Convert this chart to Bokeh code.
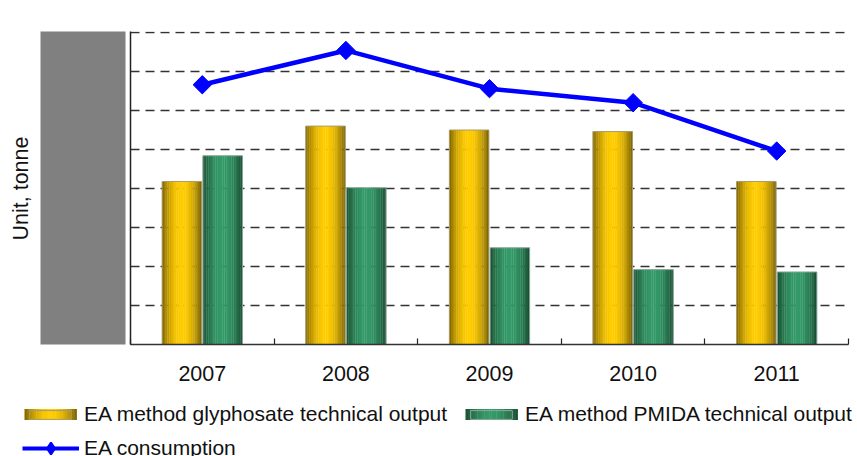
import numpy as np
from bokeh.plotting import figure
from bokeh.layouts import row, column
from bokeh.models import (ColumnDataSource, Range1d, FixedTicker, Legend, LegendItem, Title)
from bokeh.embed import file_html
from bokeh.resources import INLINE

# ---- data (tonnes) ----
years = ["2007", "2008", "2009", "2010", "2011"]
glyphosate_output = [20900, 28000, 27500, 27300, 20900]
pmida_output = [24200, 20100, 12400, 9600, 9300]
ea_consumption = [33300, 37700, 32800, 31000, 24800]
y_ticks = [0, 5000, 10000, 15000, 20000, 25000, 30000, 35000, 40000]
series_names = ["EA method glyphosate technical output",
                "EA method PMIDA technical output",
                "EA consumption"]

FONT = "Liberation Sans"
FS = "21px"
TXT = "#111111"
TOP_H = 392


def blank(fig):
    fig.xaxis.visible = False
    fig.yaxis.visible = False
    fig.grid.visible = False
    fig.outline_line_color = None
    fig.border_fill_color = "white"


# ---------------- axis title strip ----------------
lab = figure(width=40, height=TOP_H, output_backend="svg", toolbar_location=None,
             x_range=Range1d(0, 1), y_range=Range1d(0, 1),
             min_border_left=32, min_border_right=0, min_border_top=14,
             min_border_bottom=3)
blank(lab)
lab.background_fill_color = "white"
lab.add_layout(Title(text="Unit, tonne", align="left", offset=104,
                     text_font=FONT, text_font_size="21.5px", text_font_style="normal",
                     text_color=TXT, standoff=0), "left")

# ---------------- grey block (covers the value labels) ----------------
grey = figure(width=86, height=TOP_H, output_backend="svg", toolbar_location=None,
              x_range=Range1d(0, 1), y_range=Range1d(0, 1),
              min_border_left=0, min_border_right=1, min_border_top=14,
              min_border_bottom=3)
blank(grey)
grey.background_fill_color = "#808080"

# ---------------- main chart ----------------
frame_h = 313
y_end = y_ticks[-1] * frame_h / (frame_h - 1)
p = figure(width=731, height=TOP_H, output_backend="svg", toolbar_location=None,
           x_range=Range1d(0, len(years)), y_range=Range1d(0, y_end),
           min_border_left=4, min_border_right=9, min_border_top=31,
           min_border_bottom=TOP_H - 344)
p.outline_line_color = None
p.background_fill_color = "white"
p.border_fill_color = "white"


def hexc(c):
    return "#%02x%02x%02x" % tuple(int(round(v)) for v in c)


def gradient(dark_l, light, dark_r, n):
    cols = []
    for k in range(n):
        t = (k + 0.5) / n
        f = np.sin(np.pi * t) ** 0.8
        dark = np.array(dark_l) if t < 0.5 else np.array(dark_r)
        cols.append(hexc(dark + (np.array(light) - dark) * f))
    return cols


NS = 22
BW = 0.275
OFF = 0.142
gold_cols = gradient((120, 94, 0), (255, 204, 0), (112, 90, 8), NS)
green_cols = gradient((24, 74, 48), (52, 154, 104), (22, 70, 46), NS)


def strip_source(values, offset, colors):
    xs, tops, cs = [], [], []
    for i, v in enumerate(values):
        c = i + 0.5 + offset
        for k in range(NS):
            xs.append(c - BW / 2 + (k + 0.5) * BW / NS)
            tops.append(v)
            cs.append(colors[k])
    return ColumnDataSource(dict(x=xs, top=tops, color=cs))


p.vbar(x="x", top="top", width=BW / NS * 1.15, bottom=0,
       source=strip_source(glyphosate_output, -OFF, gold_cols),
       fill_color="color", line_color=None)
p.vbar(x="x", top="top", width=BW / NS * 1.15, bottom=0,
       source=strip_source(pmida_output, OFF, green_cols),
       fill_color="color", line_color=None)

xc = np.arange(len(years)) + 0.5
p.vbar(x=xc - OFF, top=glyphosate_output, width=BW, fill_color=None,
       line_color="#a89c6a", line_width=1)
p.vbar(x=xc + OFF, top=pmida_output, width=BW, fill_color=None,
       line_color="#8aa898", line_width=1)

p.line(xc, ea_consumption, line_color="#0000ff", line_width=4.5)
p.scatter(xc, ea_consumption, marker="square", angle=np.pi / 4, size=13,
          fill_color="#0000ff", line_color="#0000ff")

p.xaxis.ticker = FixedTicker(ticks=list(xc), minor_ticks=list(range(len(years) + 1)))
p.xaxis.major_label_overrides = {float(x): y for x, y in zip(xc, years)}
p.xaxis.major_tick_in = 0
p.xaxis.major_tick_out = 0
p.xaxis.minor_tick_in = 6
p.xaxis.minor_tick_out = 0
p.xaxis.minor_tick_line_color = "#222222"
p.xaxis.minor_tick_line_width = 1.2
p.xaxis.axis_line_color = "#333333"
p.xaxis.axis_line_width = 1.5
p.xaxis.major_label_text_font = FONT
p.xaxis.major_label_text_font_size = "21.5px"
p.xaxis.major_label_text_color = TXT
p.xaxis.major_label_standoff = 21

p.yaxis.ticker = FixedTicker(ticks=y_ticks)
p.yaxis.major_tick_in = 0
p.yaxis.major_tick_out = 0
p.yaxis.minor_tick_line_color = None
p.yaxis.major_label_text_font_size = "0px"
p.yaxis.major_label_standoff = 0
p.yaxis.axis_line_color = "#222222"
p.yaxis.axis_line_width = 1.5

p.xgrid.grid_line_color = None
p.ygrid.grid_line_color = "#333333"
p.ygrid.grid_line_width = 1.4
p.ygrid.grid_line_dash = "9 6"

# ---------------- legend strip ----------------
LEG_H = 456 - TOP_H
lg = figure(width=857, height=LEG_H, output_backend="svg", toolbar_location=None,
            x_range=Range1d(0, 857), y_range=Range1d(LEG_H, 0),
            min_border_left=0, min_border_right=0, min_border_top=0, min_border_bottom=0)
blank(lg)

# legend layout (pixels of this strip, y downwards)
L1_X, L1_TOP, ITEM_H = 24, 9, 26
GW, GH, STANDOFF, SPACING, LABEL_W = 52, 11, 8, 8, 373
L2_X, L2_TOP, GH2 = 22, 41, 30

# gradient swatches drawn where the legend puts its sample boxes
sw_y0 = L1_TOP + (ITEM_H - GH) / 2
sw_x = [L1_X, L1_X + GW + STANDOFF + LABEL_W + SPACING]
for x0, cols in zip(sw_x, [gold_cols, green_cols]):
    k = np.arange(NS)
    lg.quad(left=x0 + k * GW / NS, right=x0 + (k + 1) * GW / NS + 0.4,
            top=[sw_y0] * NS, bottom=[sw_y0 + GH] * NS,
            fill_color=cols, line_color=None)

# legend sample glyphs (transparent boxes; gradients drawn above), kept off-range
r_g = lg.vbar(x=[5000], bottom=[5000], top=[6000], width=1,
              fill_alpha=0, line_color="#a89c6a", line_width=1)
r_p = lg.vbar(x=[5000], bottom=[5000], top=[6000], width=1,
              fill_alpha=0, line_color="#8aa898", line_width=1)
r_l = lg.line(x=[5000, 5001], y=[5000, 5000], line_color="#0000ff", line_width=4)
r_m = lg.scatter(x=[5000], y=[5000], marker="diamond", size=12, line_width=2,
                 fill_color="#0000ff", line_color="#0000ff")

common = dict(label_text_font=FONT, label_text_font_size=FS, label_text_color=TXT,
              label_height=ITEM_H, padding=0, margin=0, border_line_color=None,
              background_fill_alpha=0)

leg1 = Legend(items=[
    LegendItem(label=series_names[0], renderers=[r_g]),
    LegendItem(label=series_names[1], renderers=[r_p]),
], orientation="horizontal", location=(L1_X, LEG_H - L1_TOP - ITEM_H),
    glyph_width=GW, glyph_height=GH, label_standoff=STANDOFF, spacing=SPACING,
    label_width=LABEL_W, **common)
leg2 = Legend(items=[
    LegendItem(label=series_names[2], renderers=[r_l, r_m]),
], orientation="horizontal", location=(L2_X, LEG_H - L2_TOP - GH2),
    glyph_width=57, glyph_height=GH2, label_standoff=5, **common)
lg.add_layout(leg1, "center")
lg.add_layout(leg2, "center")

layout = column(row(lab, grey, p, spacing=0), lg, spacing=0)
open("out.html", "w").write(file_html(layout, INLINE))
